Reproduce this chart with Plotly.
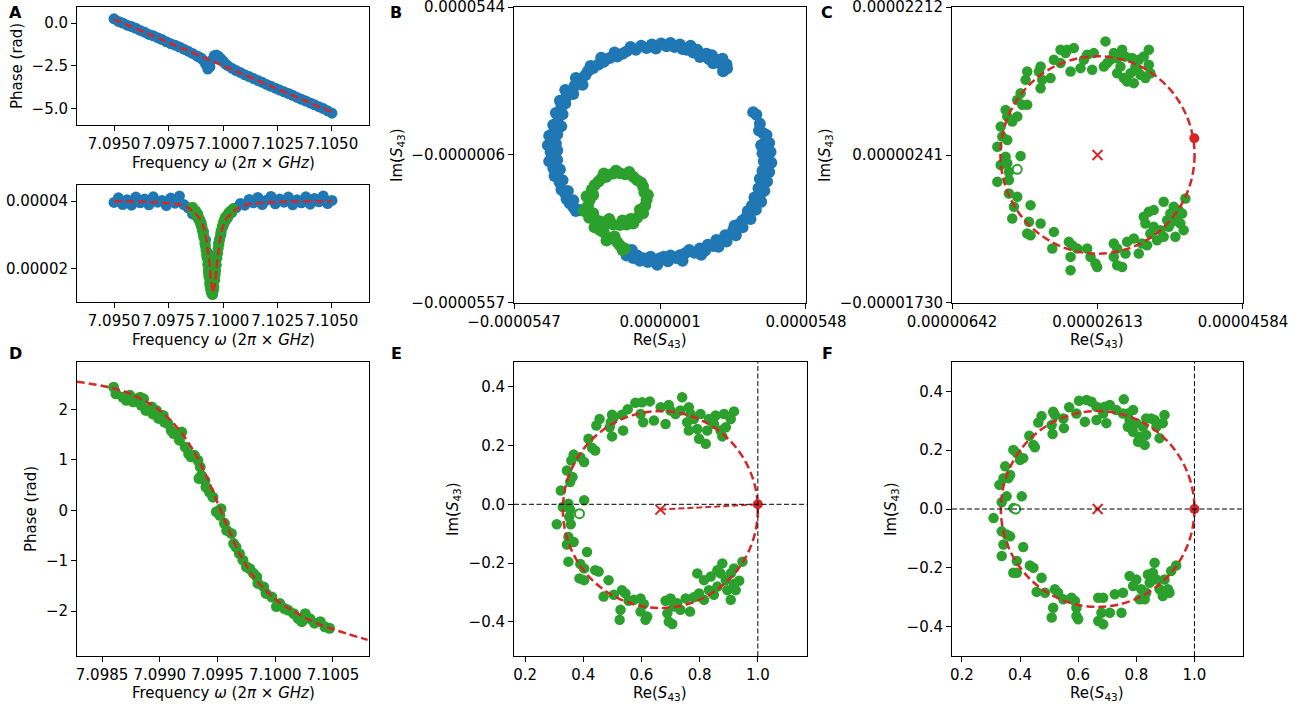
import numpy as np
import plotly.graph_objects as go

W, H = 1312, 711
BLUE, GREEN, RED = "#1f77b4", "#2ca02c", "#d62728"
FONT = "DejaVu Sans"
MU = 1e-6      # micro units used for the complex-plane data
M5 = 1e-5      # magnitude lists are stored in units of 1e-5

# ---------------- Panel A: full frequency sweep ----------------
sweep_freq = [7.0950, 7.0952, 7.0954, 7.0956, 7.0958, 7.0960, 7.0962, 7.0964, 7.0966, 7.0968,
              7.0970, 7.0972, 7.0974, 7.0976, 7.0978, 7.0980, 7.0982, 7.0984, 7.0986,
              7.0988, 7.0989, 7.0990, 7.0991, 7.0992, 7.0993, 7.0994, 7.0995, 7.0996, 7.0997,
              7.0998, 7.0999, 7.1000, 7.1001, 7.1002,
              7.1004, 7.1006, 7.1008, 7.1010, 7.1012, 7.1014, 7.1016, 7.1018, 7.1020, 7.1022,
              7.1024, 7.1026, 7.1028, 7.1030, 7.1032, 7.1034, 7.1036, 7.1038, 7.1040, 7.1042,
              7.1044, 7.1046, 7.1048, 7.1050]
sweep_phase = [0.25, 0.10, 0.00, -0.12, -0.20, -0.30, -0.43, -0.53, -0.66, -0.74,
               -0.85, -0.96, -1.09, -1.20, -1.29, -1.40, -1.52, -1.64, -1.77,
               -1.92, -1.98, -2.05, -2.18, -2.40, -2.68, -2.55, -2.15, -1.90, -1.87,
               -1.95, -2.08, -2.22, -2.36, -2.47,
               -2.63, -2.77, -2.89, -3.02, -3.12, -3.24, -3.35, -3.46, -3.58, -3.69,
               -3.80, -3.91, -4.01, -4.11, -4.22, -4.34, -4.45, -4.55, -4.66, -4.77,
               -4.88, -4.99, -5.12, -5.26]
sweep_mag = [3.96, 4.10, 3.90, 4.04, 3.88, 4.12, 3.95, 4.06, 3.89, 4.13,
             3.97, 4.02, 3.87, 4.09, 3.94, 4.15, 3.90, 3.80, 3.62,
             3.55, 3.45, 3.35, 3.10, 2.85, 2.45, 1.95, 1.35, 1.70, 2.30,
             2.75, 3.00, 3.25, 3.40, 3.50,
             3.66, 3.80, 3.93, 3.88, 4.05, 3.95, 4.11, 3.90, 4.03, 4.14,
             3.92, 4.06, 3.97, 4.12, 3.89, 4.04, 3.95, 4.13, 3.91, 4.08,
             3.98, 4.15, 3.93, 4.02]

# linear background of the phase
phase_fit_freq = [7.0950, 7.1050]
phase_fit = [0.22, -5.20]

# resonance dip of the magnitude
mag_fit_freq = [7.0950, 7.0965, 7.0975, 7.0980, 7.0984, 7.0987, 7.0990, 7.0992, 7.0993, 7.0994,
                7.09945, 7.09955, 7.09965, 7.0997, 7.0998, 7.0999, 7.1001, 7.1004, 7.1007,
                7.1011, 7.1016, 7.1026, 7.1050]
mag_fit = [4.00, 3.98, 3.94, 3.90, 3.80, 3.65, 3.42, 2.98, 2.55, 2.00,
           1.62, 1.28, 1.62, 2.00, 2.55, 2.98, 3.42, 3.65, 3.80,
           3.90, 3.94, 3.98, 4.00]

# ---------------- points selected around the resonance ----------------
res_freq = [7.09860, 7.09862, 7.09868, 7.09871, 7.09874, 7.09877, 7.09880, 7.09883, 7.09884, 7.09886,
            7.09888, 7.09893, 7.09894, 7.09897, 7.09899, 7.09903, 7.09904, 7.09907, 7.09910, 7.09912,
            7.09917, 7.09919, 7.09922, 7.09925, 7.09927, 7.09930, 7.09933, 7.09934, 7.09935, 7.09936,
            7.09939, 7.09940, 7.09943, 7.09946, 7.09949, 7.09952, 7.09953, 7.09956, 7.09958, 7.09962,
            7.09964, 7.09966, 7.09969, 7.09972, 7.09975, 7.09978, 7.09981, 7.09984, 7.09985, 7.09990,
            7.09992, 7.09997, 7.10001, 7.10004, 7.10008, 7.10011, 7.10016, 7.10020, 7.10023, 7.10026,
            7.10030, 7.10034, 7.10039, 7.10043, 7.10047]
res_phase = [2.44, 2.31, 2.24, 2.18, 2.28, 2.15, 2.21, 2.24, 2.08, 2.21,
             1.98, 2.05, 1.91, 1.98, 1.82, 1.88, 1.75, 1.72, 1.58, 1.52,
             1.39, 1.55, 1.25, 1.12, 1.06, 1.09, 0.99, 0.63, 0.86, 0.69,
             0.59, 0.46, 0.36, 0.26, -0.03, -0.10, 0.03, -0.26, -0.40, -0.46,
             -0.66, -0.73, -0.86, -0.99, -1.12, -1.16, -1.25, -1.32, -1.45, -1.52,
             -1.65, -1.72, -1.91, -1.85, -1.95, -1.98, -2.05, -2.15, -2.21, -2.05,
             -2.15, -2.24, -2.21, -2.31, -2.34]
res_mag = [3.82, 3.75, 3.70, 3.66, 3.72, 3.62, 3.60, 3.55, 3.62, 3.50,
           3.52, 3.40, 3.45, 3.35, 3.30, 3.25, 3.18, 3.10, 3.02, 2.92,
           2.75, 2.68, 2.55, 2.40, 2.30, 2.12, 1.95, 1.88, 1.80, 1.75,
           1.58, 1.50, 1.38, 1.30, 1.25, 1.22, 1.28, 1.35, 1.45, 1.65,
           1.80, 1.92, 2.10, 2.30, 2.45, 2.60, 2.72, 2.85, 2.88, 3.05,
           3.12, 3.25, 3.32, 3.40, 3.45, 3.52, 3.55, 3.50, 3.58, 3.65,
           3.62, 3.70, 3.68, 3.74, 3.78]

# ---------------- Panel D: phase fit around resonance ----------------
res_fit_freq = [7.09828, 7.0985, 7.0987, 7.0989, 7.0990, 7.0991, 7.0992, 7.0993, 7.0994, 7.0995,
                7.0996, 7.0997, 7.0998, 7.0999, 7.1000, 7.1001, 7.1003, 7.1005, 7.1008]
res_fit_phase = [2.55, 2.47, 2.35, 2.13, 1.98, 1.77, 1.50, 1.15, 0.70, 0.15,
                 -0.40, -0.90, -1.28, -1.55, -1.76, -1.92, -2.18, -2.36, -2.57]

# ---------------- Panel B: raw S43 in the complex plane (micro units) ----------------
b_background = [
    (36.2, 14.3), (35.0, 15.3), (37.5, 11.0), (38.7, 7.5), (37.2, 8.5), (40.0, 6.8),
    (39.5, 4.3), (41.0, 3.8), (38.0, 3.0), (40.0, 1.3), (41.5, 0.5), (38.5, 0.0),
    (40.3, -1.8), (39.0, -3.0), (41.8, -3.5), (40.0, -4.9), (38.5, -6.5), (41.0, -7.0),
    (39.5, -8.5), (37.5, -9.5), (40.2, -10.5), (38.7, -11.2), (37.0, -13.0), (39.2, -14.0),
    (37.5, -15.5), (35.5, -16.5), (36.2, -17.4), (38.0, -18.0), (34.5, -19.5), (36.0, -21.0),
    (33.0, -21.5), (32.5, -23.6), (34.0, -24.5), (31.0, -25.0), (29.5, -26.5), (31.0, -27.5),
    (28.0, -27.0), (27.5, -28.6), (26.0, -30.5), (28.5, -30.5), (24.5, -30.5), (23.0, -32.5),
    (25.0, -32.8), (21.2, -32.3), (20.0, -34.5), (22.0, -34.8), (18.0, -34.0), (17.0, -36.2),
    (15.0, -35.4), (13.0, -37.0), (15.5, -37.8), (11.0, -36.0), (9.5, -37.2), (7.5, -37.9),
    (8.5, -40.0), (6.0, -39.0), (4.0, -38.0), (3.0, -40.2), (1.5, -38.5), (0.0, -39.1),
    (-1.0, -41.5), (-2.0, -40.0), (-3.5, -38.5), (-4.5, -40.5), (-6.3, -39.1), (-7.5, -40.0),
    (-8.5, -38.0), (-10.0, -39.0), (-11.3, -37.3), (-10.5, -36.0), (-12.5, -38.0),
    (-31.5, -21.5), (-30.0, -21.1), (-32.5, -20.0), (-33.8, -18.6), (-35.0, -17.0), (-32.5, -17.5),
    (-35.5, -15.0), (-36.9, -13.6), (-34.5, -14.0), (-37.5, -11.0), (-38.0, -9.5), (-36.5, -10.0),
    (-39.5, -8.5), (-38.8, -7.4), (-40.0, -5.5), (-37.5, -6.0), (-39.5, -3.5), (-41.5, -3.0),
    (-38.5, -2.5), (-40.0, -1.2), (-41.0, 0.5), (-38.5, 1.0), (-40.5, 2.5), (-42.0, 3.0),
    (-39.0, 3.5), (-40.0, 5.0), (-41.5, 6.5), (-38.5, 7.0), (-39.5, 8.5), (-38.8, 11.2),
    (-37.0, 10.0), (-40.0, 10.5), (-38.0, 13.5), (-36.5, 14.5), (-39.0, 15.0), (-36.9, 17.4),
    (-35.5, 18.5), (-37.5, 19.5), (-35.0, 21.0), (-33.8, 23.0), (-32.5, 22.0), (-35.5, 23.5),
    (-32.0, 25.0), (-30.0, 27.4), (-31.5, 28.0), (-29.0, 25.5), (-28.0, 29.0), (-27.0, 30.5),
    (-25.0, 31.7), (-26.0, 32.5), (-23.0, 33.0), (-21.0, 34.0), (-22.0, 35.5), (-18.8, 35.4),
    (-17.0, 37.5), (-16.0, 36.0), (-14.0, 37.0), (-12.5, 37.9), (-11.0, 39.5), (-9.0, 38.5),
    (-7.0, 40.0), (-5.0, 39.2), (-3.0, 40.5), (-1.5, 39.0), (0.5, 40.8), (2.5, 39.8),
    (4.0, 41.0), (5.5, 39.5), (7.5, 40.5), (8.5, 38.8), (10.0, 38.5), (11.5, 40.0),
    (12.5, 37.5), (14.0, 38.5), (16.2, 36.7), (15.0, 35.8), (17.5, 37.0), (18.5, 35.0),
    (19.5, 36.5), (21.2, 34.8), (20.0, 33.5), (22.5, 33.5), (23.5, 35.2), (25.0, 33.0),
    (24.0, 32.0), (23.7, 30.5), (25.2, 31.5),
]
b_resonance = [
    (-28.5, -21.5), (-27.0, -19.5), (-26.0, -22.5), (-25.0, -22.3), (-26.5, -24.0),
    (-26.3, -17.4), (-27.5, -16.0), (-25.0, -15.5), (-25.5, -13.5), (-24.4, -11.8),
    (-23.0, -10.5), (-22.0, -9.5), (-20.0, -8.7), (-21.0, -7.5), (-17.5, -7.5),
    (-15.0, -7.4), (-16.5, -6.5), (-13.0, -7.8), (-11.5, -7.0), (-10.0, -8.7),
    (-8.5, -10.0), (-7.0, -11.0), (-6.3, -12.4), (-5.8, -14.5), (-5.0, -17.4),
    (-4.5, -15.5), (-5.5, -19.5), (-6.3, -22.3), (-7.5, -21.0), (-8.5, -24.0),
    (-10.0, -26.1), (-11.0, -24.5), (-12.5, -26.5), (-15.0, -26.7), (-14.0, -25.0),
    (-17.5, -26.5), (-20.0, -26.1), (-19.0, -24.5), (-22.0, -25.5), (-23.8, -24.8),
    (-22.5, -28.6), (-24.5, -27.5), (-21.0, -29.5), (-18.8, -31.7), (-20.0, -32.5),
    (-17.0, -31.0), (-16.0, -33.0), (-15.0, -34.2), (-13.2, -35.4), (-14.0, -36.0),
]

# ---------------- Panel C: resonance circle, raw (micro units) ----------------
c_points = [
    (27.21, 17.54), (25.63, 15.98), (24.73, 15.76), (24.28, 15.09), (23.83, 13.98), (25.41, 13.76),
    (22.93, 16.65), (22.03, 16.43), (21.12, 16.43), (21.80, 15.98), (20.22, 15.09), (21.12, 14.65),
    (19.77, 12.65), (18.42, 14.20), (18.19, 13.54), (18.42, 11.31), (16.61, 13.54), (16.39, 12.42),
    (18.64, 12.42), (22.48, 13.54), (26.99, 14.20), (27.44, 14.65), (28.34, 15.98), (27.89, 15.09),
    (28.79, 15.32), (29.24, 14.20), (28.79, 13.31), (29.69, 12.65), (30.14, 12.20), (31.05, 11.98),
    (30.60, 13.31), (31.50, 13.76), (31.72, 15.09), (32.40, 15.54), (33.08, 16.43), (33.08, 14.43),
    (31.95, 13.09), (33.30, 13.31), (32.62, 12.65), (29.47, 16.43), (29.92, 15.54), (30.82, 15.32),
    (31.27, 14.20),
    (15.71, 10.64), (15.26, 9.75), (15.94, 9.09), (16.61, 9.09), (13.68, 8.42), (13.91, 7.53),
    (15.26, 7.53), (14.58, 6.86), (13.01, 6.19), (13.23, 4.86), (13.91, 4.41), (12.56, 3.52),
    (13.68, 2.19), (13.91, 1.30), (15.71, 2.28), (13.01, 1.08), (14.13, 0.19), (12.56, -1.15),
    (14.13, -0.93), (14.13, -2.71), (15.26, -3.15), (14.81, -4.49), (14.58, -6.05), (17.06, -4.27),
    (16.84, -6.49), (18.42, -6.71), (16.61, -8.05), (17.06, -8.27), (20.22, -7.83), (20.00, -10.05),
    (22.25, -9.16), (22.70, -9.61), (23.38, -10.05), (22.48, -11.16), (22.48, -12.94), (24.73, -10.05),
    (25.18, -11.16), (25.86, -12.05), (26.08, -12.50), (28.34, -9.38), (28.79, -10.05), (28.34, -11.16),
    (28.79, -12.28), (29.47, -12.50), (29.92, -10.72), (30.14, -9.16), (31.05, -8.72), (31.72, -10.72),
    (32.17, -9.38), (32.40, -5.82), (33.30, -8.05), (33.75, -7.16), (34.20, -8.94), (34.65, -7.60),
    (35.10, -8.49), (35.10, -3.82), (36.01, -5.38), (36.46, -4.49), (36.91, -5.82), (37.36, -6.71),
    (37.81, -7.60), (36.68, -8.49), (35.78, -7.16), (38.04, -3.38), (35.56, -6.27), (37.59, -5.38),
    (33.08, -5.16), (32.62, -6.71), (33.75, -4.93), (36.23, -6.49), (32.85, -9.61), (37.13, -4.93),
]
c_center = (26.13, 2.41)
c_radius = 13.15
c_offres = (39.25, 4.63)
c_first = (15.26, 0.50)

# ---------------- Panel E: normalised circle ----------------
e_points = [
    (0.456, 0.290), (0.445, 0.268), (0.499, 0.305), (0.505, 0.296), (0.533, 0.305), (0.495, 0.279),
    (0.491, 0.262), (0.499, 0.231), (0.537, 0.251), (0.553, 0.323), (0.579, 0.345), (0.602, 0.347),
    (0.629, 0.350), (0.597, 0.307), (0.606, 0.279), (0.643, 0.285), (0.666, 0.330), (0.694, 0.338),
    (0.700, 0.319), (0.683, 0.273), (0.740, 0.364), (0.717, 0.307), (0.734, 0.319), (0.763, 0.330),
    (0.769, 0.307), (0.757, 0.279), (0.780, 0.290), (0.763, 0.251), (0.792, 0.256), (0.798, 0.223),
    (0.821, 0.206), (0.826, 0.251), (0.832, 0.290), (0.849, 0.273), (0.855, 0.302), (0.872, 0.251),
    (0.878, 0.231), (0.884, 0.307), (0.890, 0.262), (0.918, 0.316), (0.907, 0.290), (0.803, 0.307),
    (0.418, 0.223), (0.430, 0.192), (0.441, 0.183), (0.390, 0.160), (0.403, 0.144), (0.367, 0.169),
    (0.359, 0.149), (0.344, 0.115), (0.363, 0.093), (0.355, 0.076), (0.323, 0.047), (0.330, -0.009),
    (0.349, 0.002), (0.355, -0.018), (0.352, -0.043), (0.357, -0.068), (0.309, -0.068), (0.403, 0.014),
    (0.349, -0.111), (0.344, -0.137), (0.349, -0.195), (0.367, -0.128), (0.413, -0.162), (0.390, -0.203),
    (0.403, -0.218), (0.387, -0.252), (0.403, -0.258), (0.441, -0.224), (0.453, -0.229), (0.487, -0.258),
    (0.470, -0.314), (0.505, -0.308), (0.533, -0.292), (0.545, -0.303), (0.556, -0.328), (0.528, -0.359),
    (0.525, -0.393), (0.574, -0.325), (0.597, -0.320), (0.608, -0.339), (0.597, -0.365), (0.620, -0.382),
    (0.614, -0.393), (0.683, -0.328), (0.700, -0.320), (0.711, -0.348), (0.723, -0.337), (0.689, -0.371),
    (0.694, -0.399), (0.706, -0.407), (0.734, -0.359), (0.767, -0.365), (0.752, -0.320), (0.780, -0.316),
    (0.798, -0.303), (0.815, -0.325), (0.792, -0.235), (0.815, -0.258), (0.832, -0.292), (0.838, -0.246),
    (0.849, -0.308), (0.861, -0.280), (0.872, -0.235), (0.878, -0.201), (0.890, -0.258), (0.895, -0.292),
    (0.907, -0.325), (0.924, -0.292), (0.907, -0.235), (0.918, -0.271), (0.936, -0.260), (0.947, -0.195),
    (0.918, -0.218), (0.861, -0.224),
]
e_center = (0.665, -0.018)
e_radius = 0.335
e_offres = (1.0, 0.0)
e_first = (0.387, -0.032)

# ---------------- Panel F: normalised and rotated circle ----------------
f_points = [
    (0.474, 0.316), (0.463, 0.294), (0.432, 0.249), (0.446, 0.218), (0.451, 0.210), (0.514, 0.331),
    (0.520, 0.320), (0.509, 0.286), (0.512, 0.255), (0.549, 0.308), (0.551, 0.275), (0.569, 0.346),
    (0.603, 0.368), (0.629, 0.371), (0.646, 0.365), (0.594, 0.325), (0.623, 0.297), (0.663, 0.348),
    (0.691, 0.348), (0.709, 0.354), (0.686, 0.325), (0.697, 0.292), (0.663, 0.303), (0.757, 0.373),
    (0.731, 0.337), (0.754, 0.325), (0.771, 0.325), (0.789, 0.337), (0.777, 0.303), (0.771, 0.280),
    (0.789, 0.263), (0.806, 0.229), (0.829, 0.218), (0.811, 0.246), (0.823, 0.280), (0.834, 0.308),
    (0.851, 0.308), (0.863, 0.303), (0.869, 0.280), (0.880, 0.241), (0.891, 0.292), (0.897, 0.320),
    (0.834, 0.252), (0.800, 0.292),
    (0.400, 0.167), (0.389, 0.190), (0.377, 0.201), (0.411, 0.173), (0.349, 0.145), (0.366, 0.116),
    (0.360, 0.105), (0.343, 0.105), (0.329, 0.082), (0.354, 0.043), (0.406, 0.043), (0.337, 0.023),
    (0.377, 0.003), (0.309, -0.031), (0.337, -0.076), (0.354, -0.087), (0.366, -0.093), (0.343, -0.121),
    (0.337, -0.160), (0.411, -0.129), (0.389, -0.177), (0.389, -0.217), (0.377, -0.217), (0.434, -0.192),
    (0.446, -0.200), (0.474, -0.234), (0.457, -0.282), (0.486, -0.285), (0.520, -0.273), (0.531, -0.285),
    (0.549, -0.307), (0.514, -0.336), (0.509, -0.369), (0.577, -0.302), (0.589, -0.313), (0.594, -0.336),
    (0.594, -0.364), (0.600, -0.375), (0.669, -0.302), (0.686, -0.302), (0.680, -0.353), (0.669, -0.381),
    (0.686, -0.392), (0.709, -0.353), (0.749, -0.353), (0.726, -0.290), (0.754, -0.285), (0.777, -0.228),
    (0.789, -0.262), (0.800, -0.240), (0.817, -0.273), (0.829, -0.307), (0.834, -0.285), (0.846, -0.251),
    (0.857, -0.217), (0.863, -0.183), (0.869, -0.240), (0.880, -0.273), (0.891, -0.296), (0.897, -0.240),
    (0.909, -0.273), (0.914, -0.285), (0.920, -0.211), (0.937, -0.192), (0.840, -0.223), (0.811, -0.307),
]
f_center = (0.667, 0.0)
f_radius = 0.333
f_offres = (1.0, 0.0)
f_first = (0.385, 0.0)


# ---------------- figure construction ----------------
def dom_x(p0, p1):
    return [p0 / W, p1 / W]


def dom_y(top, bottom):
    return [1 - bottom / H, 1 - top / H]


def make_axis(domain, rng, tickvals, ticktext, anchor):
    return dict(domain=domain, range=rng, tickvals=tickvals, ticktext=ticktext, anchor=anchor,
                tickmode="array", tickangle=0, automargin=False, ticklabeloverflow="allow",
                showline=True, mirror=True, linecolor="black", linewidth=1,
                ticks="outside", ticklen=5, tickwidth=1, tickcolor="black",
                showgrid=False, zeroline=False, fixedrange=True,
                tickfont=dict(family=FONT, size=15, color="black"))


def pad(lo, hi):
    e = (hi - lo) * 1e-4
    return [lo - e, hi + e]


fig = go.Figure()
DASH = "8px,4px"


def dots(x, y, color, ax, size=10):
    fig.add_trace(go.Scatter(x=x, y=y, mode="markers", xaxis=ax[0], yaxis=ax[1],
                             marker=dict(color=color, size=size, line=dict(width=0)),
                             showlegend=False, hoverinfo="skip"))


def fitline(x, y, ax, shape="linear", width=2.5):
    fig.add_trace(go.Scatter(x=x, y=y, mode="lines", xaxis=ax[0], yaxis=ax[1],
                             line=dict(color=RED, width=width, dash=DASH, shape=shape,
                                       smoothing=0.8 if shape == "spline" else None),
                             showlegend=False, hoverinfo="skip"))


# A (top): phase of the full sweep
dots(sweep_freq, sweep_phase, BLUE, ("x", "y"), size=11)
fitline(phase_fit_freq, phase_fit, ("x", "y"))

# A (bottom): magnitude of the full sweep
dots(sweep_freq, np.array(sweep_mag) * M5, BLUE, ("x2", "y2"), size=11)
dots(res_freq, np.array(res_mag) * M5, GREEN, ("x2", "y2"), size=11)
fitline(mag_fit_freq, np.array(mag_fit) * M5, ("x2", "y2"), shape="spline")

# B: raw complex response
bb = np.array(b_background) * MU
br = np.array(b_resonance) * MU
dots(bb[:, 0], bb[:, 1], BLUE, ("x3", "y3"), size=12)
dots(br[:, 0], br[:, 1], GREEN, ("x3", "y3"), size=12)

# C, E, F: resonance circles
circle_panels = [
    ("x4", "y4", np.array(c_points) * MU, np.array(c_center) * MU, c_radius * MU,
     np.array(c_offres) * MU, np.array(c_first) * MU),
    ("x6", "y6", np.array(e_points), np.array(e_center), e_radius,
     np.array(e_offres), np.array(e_first)),
    ("x7", "y7", np.array(f_points), np.array(f_center), f_radius,
     np.array(f_offres), np.array(f_first)),
]
shapes = []
for xa, ya, pts, cen, rad, off, first in circle_panels:
    dots(pts[:, 0], pts[:, 1], GREEN, (xa, ya), size=10.5)
    fig.add_trace(go.Scatter(x=[first[0]], y=[first[1]], mode="markers", xaxis=xa, yaxis=ya,
                             marker=dict(color="white", size=9, line=dict(color=GREEN, width=2)),
                             showlegend=False, hoverinfo="skip"))
    if xa == "x6":
        fig.add_trace(go.Scatter(x=[cen[0], off[0]], y=[cen[1], off[1]], mode="lines",
                                 xaxis=xa, yaxis=ya,
                                 line=dict(color=RED, width=2, dash="6px,3px"),
                                 showlegend=False, hoverinfo="skip"))
    fig.add_trace(go.Scatter(x=[cen[0]], y=[cen[1]], mode="markers", xaxis=xa, yaxis=ya,
                             marker=dict(symbol="x-thin", size=10, color=RED,
                                         line=dict(color=RED, width=2)),
                             showlegend=False, hoverinfo="skip"))
    fig.add_trace(go.Scatter(x=[off[0]], y=[off[1]], mode="markers", xaxis=xa, yaxis=ya,
                             marker=dict(color=RED, size=10),
                             showlegend=False, hoverinfo="skip"))
    shapes.append(dict(type="circle", xref=xa, yref=ya, layer="above",
                       x0=cen[0] - rad, x1=cen[0] + rad, y0=cen[1] - rad, y1=cen[1] + rad,
                       line=dict(color=RED, width=2.5, dash=DASH)))

# E and F: reference axes through the off-resonant point
for xa, ya in (("x6", "y6"), ("x7", "y7")):
    shapes.append(dict(type="line", xref=xa, yref=ya + " domain", x0=1.0, x1=1.0, y0=0, y1=1,
                       layer="above", line=dict(color="black", width=1, dash="5px,2.5px")))
    shapes.append(dict(type="line", xref=xa + " domain", yref=ya, x0=0, x1=1, y0=0.0, y1=0.0,
                       layer="above", line=dict(color="black", width=1, dash="5px,2.5px")))

# D: phase around resonance
dots(res_freq, res_phase, GREEN, ("x5", "y5"), size=11)
fitline(res_fit_freq, res_fit_phase, ("x5", "y5"), shape="spline")

# ---------------- axes ----------------
sweep_ticks = [7.0950, 7.0975, 7.1000, 7.1025, 7.1050]
sweep_text = ["7.0950", "7.0975", "7.1000", "7.1025", "7.1050"]
res_ticks = [7.0985, 7.0990, 7.0995, 7.1000, 7.1005]
res_text = ["7.0985", "7.0990", "7.0995", "7.1000", "7.1005"]
norm_x_ticks = [0.2, 0.4, 0.6, 0.8, 1.0]
norm_x_text = ["0.2", "0.4", "0.6", "0.8", "1.0"]
norm_y_ticks = [-0.4, -0.2, 0.0, 0.2, 0.4]
norm_y_text = ["\u22120.4", "\u22120.2", "0.0", "0.2", "0.4"]

b_x_ticks = [-54.7 * MU, 0.1 * MU, 54.8 * MU]
b_y_ticks = [-55.7 * MU, -0.6 * MU, 54.4 * MU]
c_x_ticks = [6.42 * MU, 26.13 * MU, 45.84 * MU]
c_y_ticks = [-17.30 * MU, 2.41 * MU, 22.12 * MU]

layout_axes = dict(
    xaxis=make_axis(dom_x(77, 369), [7.0933, 7.1067], sweep_ticks, sweep_text, "y"),
    yaxis=make_axis(dom_y(7, 125), [-5.95, 0.94], [-5.0, -2.5, 0.0],
                    ["\u22125.0", "\u22122.5", "0.0"], "x"),
    xaxis2=make_axis(dom_x(77, 369), [7.0933, 7.1067], sweep_ticks, sweep_text, "y2"),
    yaxis2=make_axis(dom_y(185, 302), [1.0e-5, 4.48e-5], [2e-5, 4e-5],
                     ["0.00002", "0.00004"], "x2"),
    xaxis3=make_axis(dom_x(514, 806), pad(b_x_ticks[0], b_x_ticks[2]), b_x_ticks,
                     ["\u22120.0000547", "0.0000001", "0.0000548"], "y3"),
    yaxis3=make_axis(dom_y(7, 303), pad(b_y_ticks[0], b_y_ticks[2]), b_y_ticks,
                     ["\u22120.0000557", "\u22120.0000006", "0.0000544"], "x3"),
    xaxis4=make_axis(dom_x(952, 1243), pad(c_x_ticks[0], c_x_ticks[2]), c_x_ticks,
                     ["0.00000642", "0.00002613", "0.00004584"], "y4"),
    yaxis4=make_axis(dom_y(7, 303), pad(c_y_ticks[0], c_y_ticks[2]), c_y_ticks,
                     ["\u22120.00001730", "0.00000241", "0.00002212"], "x4"),
    xaxis5=make_axis(dom_x(77, 369), [7.098283, 7.100812], res_ticks, res_text, "y5"),
    yaxis5=make_axis(dom_y(362, 656), [-2.89, 2.94], [-2, -1, 0, 1, 2],
                     ["\u22122", "\u22121", "0", "1", "2"], "x5"),
    xaxis6=make_axis(dom_x(514, 807), [0.162, 1.169], norm_x_ticks, norm_x_text, "y6"),
    yaxis6=make_axis(dom_y(362, 656), [-0.516, 0.484], norm_y_ticks, norm_y_text, "x6"),
    xaxis7=make_axis(dom_x(952, 1243), [0.166, 1.167], norm_x_ticks, norm_x_text, "y7"),
    yaxis7=make_axis(dom_y(362, 656), [-0.50, 0.50], norm_y_ticks, norm_y_text, "x7"),
)

# ---------------- labels ----------------
FREQ = "Frequency <i>\u03c9</i> (2<i>\u03c0</i> \u00d7 <i>GHz</i>)"
RE = "Re(<i>S</i><sub>43</sub>)"
IM = "Im(<i>S</i><sub>43</sub>)"
labels = [
    (223, 163, FREQ, 0), (223, 340, FREQ, 0), (17, 66, "Phase (rad)", -90),
    (660, 340, RE, 0), (397, 155, IM, -90),
    (1097, 340, RE, 0), (825, 155, IM, -90),
    (223, 693, FREQ, 0), (31, 509, "Phase (rad)", -90),
    (660, 693, RE, 0), (454, 509, IM, -90),
    (1097, 693, RE, 0), (892, 509, IM, -90),
]
annotations = []
for px, py, text, ang in labels:
    annotations.append(dict(x=px / W, y=1 - py / H, xref="paper", yref="paper", text=text,
                            showarrow=False, textangle=ang, xanchor="center", yanchor="middle",
                            font=dict(family=FONT, size=15, color="black")))
for px, py, letter in [(15, 12, "A"), (396, 12, "B"), (827, 12, "C"),
                       (15, 353, "D"), (396, 353, "E"), (827, 353, "F")]:
    annotations.append(dict(x=px / W, y=1 - py / H, xref="paper", yref="paper",
                            text="<b>%s</b>" % letter, showarrow=False,
                            xanchor="center", yanchor="middle",
                            font=dict(family=FONT, size=16, color="black")))

fig.update_layout(
    template="none",
    width=W, height=H, margin=dict(l=0, r=0, t=0, b=0, pad=0),
    paper_bgcolor="white", plot_bgcolor="white",
    font=dict(family=FONT, size=15, color="black"),
    showlegend=False, shapes=shapes, annotations=annotations,
    **layout_axes,
)

fig.write_html("out.html", config={"displayModeBar": False})
